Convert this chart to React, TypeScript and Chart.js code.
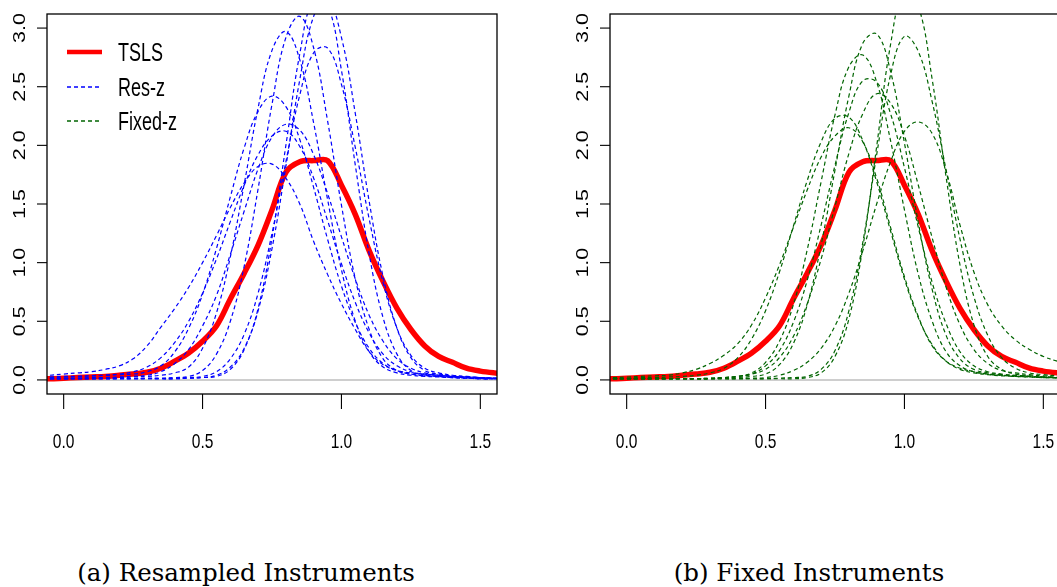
import React, { useEffect, useRef } from "react";
import { Chart, registerables } from "chart.js";

Chart.register(...registerables);

// ---------- data ----------
const xGrid = [
  -0.10, -0.05, 0.00, 0.05, 0.10,
  0.15, 0.20, 0.25, 0.30, 0.35,
  0.40, 0.45, 0.50, 0.55, 0.60,
  0.65, 0.70, 0.75, 0.80, 0.85,
  0.90, 0.95, 1.00, 1.05, 1.10,
  1.15, 1.20, 1.25, 1.30, 1.35,
  1.40, 1.45, 1.50, 1.55, 1.60,
];

const tsls = [
  0.008, 0.01, 0.015, 0.02, 0.025,
  0.03, 0.04, 0.05, 0.065, 0.10,
  0.16, 0.23, 0.33, 0.46, 0.69,
  0.91, 1.15, 1.45, 1.77, 1.86,
  1.87, 1.87, 1.66, 1.41, 1.10,
  0.84, 0.61, 0.43, 0.29, 0.20,
  0.15, 0.10, 0.075, 0.06, 0.05,
];

// Resampled instruments (Res-z)
const resA = [0.035, 0.04, 0.05, 0.06, 0.07, 0.09, 0.12, 0.18, 0.29, 0.45, 0.61, 0.79, 1.00, 1.23, 1.47, 1.68, 1.82, 1.84, 1.72, 1.50, 1.18, 0.90, 0.65, 0.43, 0.24, 0.13, 0.08, 0.06, 0.05, 0.04, 0.03, 0.025, 0.02, 0.015, 0.012];
const resB = [0.02, 0.025, 0.03, 0.03, 0.035, 0.04, 0.045, 0.05, 0.07, 0.12, 0.24, 0.44, 0.73, 1.12, 1.56, 1.98, 2.29, 2.42, 2.33, 2.05, 1.64, 1.20, 0.80, 0.49, 0.27, 0.14, 0.08, 0.05, 0.04, 0.03, 0.025, 0.02, 0.015, 0.012, 0.01];
const resC = [0.01, 0.01, 0.015, 0.015, 0.02, 0.02, 0.025, 0.03, 0.04, 0.07, 0.14, 0.26, 0.46, 0.72, 1.07, 1.44, 1.80, 2.07, 2.18, 2.13, 1.92, 1.59, 1.22, 0.86, 0.55, 0.33, 0.18, 0.10, 0.06, 0.04, 0.03, 0.02, 0.015, 0.01, 0.01];
const resD = [0.02, 0.02, 0.025, 0.03, 0.035, 0.04, 0.05, 0.07, 0.11, 0.19, 0.32, 0.50, 0.74, 1.03, 1.35, 1.66, 1.92, 2.08, 2.12, 1.99, 1.72, 1.36, 0.99, 0.66, 0.40, 0.22, 0.12, 0.07, 0.05, 0.04, 0.03, 0.025, 0.02, 0.015, 0.012];
const resE = [0.01, 0.01, 0.01, 0.015, 0.015, 0.02, 0.02, 0.025, 0.03, 0.04, 0.06, 0.11, 0.27, 0.57, 1.05, 1.67, 2.32, 2.81, 2.97, 2.73, 2.19, 1.54, 0.94, 0.50, 0.24, 0.11, 0.06, 0.04, 0.03, 0.025, 0.02, 0.015, 0.01, 0.01, 0.01];
const resF = [0.01, 0.01, 0.01, 0.01, 0.01, 0.01, 0.012, 0.012, 0.015, 0.015, 0.02, 0.03, 0.08, 0.22, 0.50, 0.97, 1.63, 2.35, 2.92, 3.10, 2.83, 2.21, 1.49, 0.86, 0.43, 0.18, 0.08, 0.05, 0.035, 0.03, 0.02, 0.015, 0.01, 0.01, 0.01];
const resG = [0.01, 0.01, 0.01, 0.01, 0.01, 0.01, 0.01, 0.01, 0.012, 0.012, 0.015, 0.02, 0.03, 0.07, 0.18, 0.39, 0.74, 1.25, 1.86, 2.43, 2.79, 2.83, 2.52, 1.98, 1.37, 0.83, 0.44, 0.21, 0.10, 0.06, 0.04, 0.03, 0.02, 0.015, 0.012];
const resH = [0.01, 0.01, 0.01, 0.01, 0.01, 0.01, 0.01, 0.01, 0.01, 0.01, 0.01, 0.015, 0.02, 0.03, 0.09, 0.26, 0.61, 1.21, 2.00, 2.78, 3.25, 3.20, 2.64, 1.83, 1.07, 0.53, 0.22, 0.08, 0.04, 0.03, 0.02, 0.015, 0.01, 0.01, 0.01];
const resI = [0.01, 0.01, 0.01, 0.01, 0.01, 0.01, 0.01, 0.01, 0.01, 0.01, 0.01, 0.015, 0.02, 0.04, 0.11, 0.27, 0.59, 1.12, 1.82, 2.56, 3.10, 3.24, 2.92, 2.27, 1.52, 0.88, 0.44, 0.19, 0.08, 0.05, 0.035, 0.025, 0.02, 0.015, 0.012];

// Fixed instruments (Fixed-z)
const fixA = [0.015, 0.015, 0.015, 0.02, 0.02, 0.025, 0.03, 0.04, 0.06, 0.10, 0.19, 0.35, 0.59, 0.92, 1.31, 1.70, 2.03, 2.23, 2.24, 2.04, 1.69, 1.27, 0.86, 0.53, 0.30, 0.16, 0.09, 0.06, 0.045, 0.035, 0.03, 0.025, 0.02, 0.02, 0.015];
const fixB = [0.015, 0.02, 0.025, 0.03, 0.035, 0.04, 0.06, 0.09, 0.14, 0.21, 0.31, 0.47, 0.70, 0.98, 1.30, 1.62, 1.90, 2.08, 2.15, 2.03, 1.72, 1.30, 0.88, 0.54, 0.29, 0.16, 0.10, 0.07, 0.05, 0.04, 0.035, 0.03, 0.025, 0.02, 0.02];
const fixC = [0.01, 0.01, 0.01, 0.01, 0.01, 0.01, 0.01, 0.01, 0.01, 0.015, 0.02, 0.03, 0.05, 0.13, 0.31, 0.64, 1.15, 1.79, 2.42, 2.87, 2.95, 2.63, 2.02, 1.34, 0.77, 0.38, 0.18, 0.09, 0.06, 0.045, 0.035, 0.03, 0.025, 0.02, 0.02];
const fixD = [0.01, 0.01, 0.01, 0.01, 0.01, 0.01, 0.01, 0.01, 0.015, 0.02, 0.03, 0.06, 0.15, 0.33, 0.64, 1.11, 1.69, 2.26, 2.67, 2.77, 2.54, 2.04, 1.45, 0.90, 0.50, 0.24, 0.12, 0.07, 0.05, 0.04, 0.03, 0.025, 0.02, 0.015, 0.015];
const fixE = [0.01, 0.01, 0.01, 0.01, 0.01, 0.01, 0.01, 0.01, 0.01, 0.02, 0.03, 0.05, 0.12, 0.25, 0.49, 0.85, 1.32, 1.83, 2.28, 2.55, 2.54, 2.27, 1.81, 1.30, 0.83, 0.48, 0.24, 0.12, 0.07, 0.05, 0.04, 0.03, 0.025, 0.02, 0.02];
const fixF = [0.01, 0.01, 0.01, 0.01, 0.01, 0.01, 0.01, 0.01, 0.015, 0.02, 0.03, 0.05, 0.09, 0.19, 0.37, 0.65, 1.03, 1.48, 1.93, 2.27, 2.44, 2.36, 2.08, 1.66, 1.21, 0.79, 0.47, 0.26, 0.14, 0.08, 0.06, 0.045, 0.035, 0.03, 0.025];
const fixG = [0.01, 0.01, 0.01, 0.01, 0.01, 0.01, 0.01, 0.01, 0.01, 0.01, 0.01, 0.01, 0.01, 0.015, 0.02, 0.03, 0.09, 0.25, 0.59, 1.17, 1.92, 2.60, 2.93, 2.80, 2.37, 1.79, 1.20, 0.71, 0.38, 0.19, 0.10, 0.06, 0.045, 0.035, 0.03];
const fixH = [0.01, 0.01, 0.01, 0.01, 0.01, 0.01, 0.01, 0.01, 0.01, 0.01, 0.01, 0.015, 0.02, 0.04, 0.08, 0.15, 0.27, 0.46, 0.74, 1.10, 1.50, 1.86, 2.12, 2.20, 2.10, 1.78, 1.32, 0.92, 0.64, 0.46, 0.34, 0.26, 0.20, 0.16, 0.13];
const fixI = [0.01, 0.01, 0.01, 0.01, 0.01, 0.01, 0.01, 0.01, 0.01, 0.01, 0.01, 0.01, 0.01, 0.01, 0.01, 0.02, 0.06, 0.20, 0.52, 1.13, 1.99, 2.86, 3.33, 3.19, 2.56, 1.73, 0.98, 0.47, 0.20, 0.09, 0.05, 0.035, 0.025, 0.02, 0.02];

const resCurves = [resA, resB, resC, resD, resE, resF, resG, resH, resI];
const fixCurves = [fixA, fixB, fixC, fixD, fixE, fixF, fixG, fixH, fixI];

const xTicks = [0, 0.5, 1.0, 1.5];
const xTickLabels = ["0.0", "0.5", "1.0", "1.5"];
const yTicks = [0, 0.5, 1.0, 1.5, 2.0, 2.5, 3.0];
const yTickLabels = ["0.0", "0.5", "1.0", "1.5", "2.0", "2.5", "3.0"];
const legendLabels = ["TSLS", "Res-z", "Fixed-z"];
const captions = ["(a) Resampled Instruments", "(b) Fixed Instruments"];

// ---------- styles ----------
const RED = "#ff0000";
const BLUE = "#0000ff";
const GREEN = "#006400";
const DASH = [4, 3];
const SANS = '"Liberation Sans", Arial, sans-serif';

const toPoints = (ys: number[]) => xGrid.map((x, i) => ({ x, y: ys[i] }));

// text drawn with a horizontal squeeze, like the squeezed R figure
function squeezedText(ctx: CanvasRenderingContext2D, text: string, x: number, y: number, sx: number, rotate: boolean) {
  ctx.save();
  ctx.translate(x, y);
  ctx.scale(sx, 1);
  if (rotate) ctx.rotate(-Math.PI / 2);
  ctx.fillText(text, 0, 0);
  ctx.restore();
}

function makePlugin(showLegend: boolean) {
  return {
    id: "rStyle",
    beforeDatasetsDraw(chart: any) {
      const { ctx, chartArea, scales } = chart;
      const { left, right, top, bottom } = chartArea;
      ctx.save();
      ctx.beginPath();
      ctx.rect(left, top, right - left, bottom - top);
      ctx.clip();
      const y0 = scales.y.getPixelForValue(0);
      ctx.strokeStyle = "#bebebe";
      ctx.lineWidth = 1.5;
      ctx.beginPath();
      ctx.moveTo(left, y0);
      ctx.lineTo(right, y0);
      ctx.stroke();
      ctx.restore();
    },
    afterDraw(chart: any) {
      const { ctx, chartArea, scales } = chart;
      const { left, right, top, bottom } = chartArea;
      ctx.save();
      // box
      ctx.strokeStyle = "#000";
      ctx.lineWidth = 1.3;
      ctx.strokeRect(left, top, right - left, bottom - top);

      // y axis ticks & rotated labels
      ctx.lineWidth = 1.1;
      ctx.fillStyle = "#000";
      ctx.font = "21.5px " + SANS;
      ctx.textAlign = "center";
      ctx.textBaseline = "alphabetic";
      yTicks.forEach((v, i) => {
        const py = scales.y.getPixelForValue(v);
        ctx.beginPath();
        ctx.moveTo(left - 10, py);
        ctx.lineTo(left, py);
        ctx.stroke();
        squeezedText(ctx, yTickLabels[i], left - 22, py, 0.8, true);
      });

      // x axis ticks & labels
      ctx.font = "21px " + SANS;
      xTicks.forEach((v, i) => {
        const px = scales.x.getPixelForValue(v);
        ctx.beginPath();
        ctx.moveTo(px, bottom);
        ctx.lineTo(px, bottom + 15);
        ctx.stroke();
        squeezedText(ctx, xTickLabels[i], px, bottom + 54, 0.74, false);
      });

      if (showLegend) {
        const rows = [
          { color: RED, width: 4.5, dash: [] as number[] },
          { color: BLUE, width: 1.3, dash: DASH },
          { color: GREEN, width: 1.3, dash: DASH },
        ];
        const rowY = [top + 38, top + 73, top + 107];
        ctx.font = "25px " + SANS;
        ctx.textAlign = "left";
        rows.forEach((r, i) => {
          ctx.strokeStyle = r.color;
          ctx.lineWidth = r.width;
          ctx.setLineDash(r.dash);
          ctx.beginPath();
          ctx.moveTo(left + 20, rowY[i]);
          ctx.lineTo(left + 55, rowY[i]);
          ctx.stroke();
          ctx.setLineDash([]);
          ctx.fillStyle = "#000";
          squeezedText(ctx, legendLabels[i], left + 71, rowY[i] + 9, 0.72, false);
        });
      }
      ctx.restore();
    },
  };
}

function Panel({ curves, color, x, showLegend }: { curves: number[][]; color: string; x: number; showLegend: boolean }) {
  const ref = useRef<HTMLCanvasElement>(null);
  useEffect(() => {
    const datasets: any[] = curves.map((c) => ({
      data: toPoints(c),
      borderColor: color,
      borderWidth: 1.2,
      borderDash: DASH,
      pointRadius: 0,
      fill: false,
      clip: 0,
      tension: 0.4,
      order: 1,
    }));
    datasets.push({
      data: toPoints(tsls),
      borderColor: RED,
      borderWidth: 5.5,
      pointRadius: 0,
      fill: false,
      clip: 0,
      tension: 0.35,
      order: 2,
    });
    const chart = new Chart(ref.current as HTMLCanvasElement, {
      type: "line",
      data: { datasets },
      options: {
        animation: false,
        responsive: false,
        events: [],
        layout: { padding: { left: 47, top: 14, right: 43, bottom: 76 } },
        plugins: { legend: { display: false }, tooltip: { enabled: false } },
        elements: { line: { capBezierPoints: false } as any, point: { radius: 0 } },
        scales: {
          x: { type: "linear", min: -0.06, max: 1.56, display: false },
          y: { type: "linear", min: -0.12, max: 3.12, display: false },
        },
      } as any,
      plugins: [makePlugin(showLegend)],
    });
    return () => chart.destroy();
  }, []);
  return (
    <canvas
      ref={ref}
      width={540}
      height={470}
      style={{ position: "absolute", left: x, top: 0, width: 540, height: 470 }}
    />
  );
}

const captionStyle = (center: number): React.CSSProperties => ({
  position: "absolute",
  left: center - 250,
  width: 500,
  top: 560,
  textAlign: "center",
  fontFamily: '"DejaVu Serif", "Liberation Serif", serif',
  fontSize: 24.5,
  lineHeight: "26px",
  color: "#000",
  whiteSpace: "nowrap",
});

export default function App() {
  return (
    <div
      style={{
        position: "fixed",
        left: 0,
        top: 0,
        width: 1057,
        height: 587,
        overflow: "hidden",
        background: "#fff",
      }}
    >
      <Panel curves={resCurves} color={BLUE} x={0} showLegend={true} />
      <Panel curves={fixCurves} color={GREEN} x={563} showLegend={false} />
      <div style={captionStyle(246)}>{captions[0]}</div>
      <div style={captionStyle(809)}>{captions[1]}</div>
    </div>
  );
}
